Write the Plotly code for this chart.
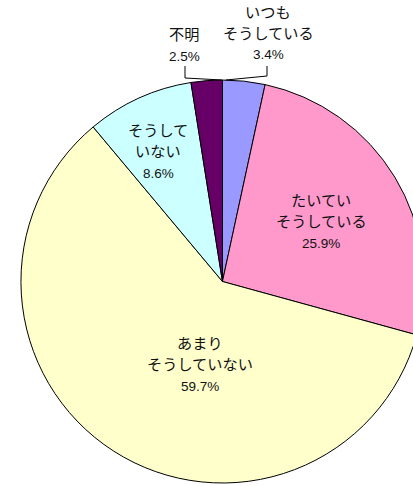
import plotly.graph_objects as go

labels = ["いつも<br>そうしている", "たいてい<br>そうしている", "あまり<br>そうしていない", "そうして<br>いない", "不明"]
values = [3.4, 25.9, 59.7, 8.6, 2.5]
colors = ["#9999FF", "#FF99CC", "#FFFFCC", "#CCFFFF", "#660066"]

W, H = 444, 486
# label centre positions (pixels) for first line of each label
label_pos = [(268, 12), (321, 200), (200, 343), (158, 130), (184, 35)]
LINE = 21.5

fig = go.Figure(go.Pie(
    labels=labels, values=values, sort=False, direction="clockwise", rotation=0,
    marker=dict(colors=colors, line=dict(color="black", width=1)),
    textinfo="none", hoverinfo="label+percent", showlegend=False,
    domain=dict(x=[0.002, 1], y=[(H - 483) / H, (H - 80) / H]),
))

font = dict(family="Liberation Sans, Arial, Noto Sans CJK JP", color="#111111")
for lab, val, (px, py) in zip(labels, values, label_pos):
    lines = lab.split("<br>") + [f"{val}%"]
    for i, t in enumerate(lines):
        fig.add_annotation(x=px / W, y=1 - (py + i * LINE) / H, xref="paper", yref="paper",
                           text=t, showarrow=False, xanchor="center", yanchor="middle",
                           font=dict(font, size=13.5 if t.endswith("%") else 15.2))

def seg(x0, y0, x1, y1):
    fig.add_shape(type="line", xref="paper", yref="paper",
                  x0=x0 / W, y0=1 - y0 / H, x1=x1 / W, y1=1 - y1 / H,
                  line=dict(color="black", width=1))

seg(185, 66, 185, 78)
seg(185, 78, 222, 80)
seg(267, 66, 267, 76)
seg(267, 76, 226, 80)

fig.update_layout(width=W, height=H, margin=dict(l=0, r=0, t=0, b=0),
                  paper_bgcolor="white", plot_bgcolor="white")
fig.write_html("out.html", config={"displayModeBar": False},
               post_script="document.body.style.margin='0';document.body.style.overflow='hidden';")
